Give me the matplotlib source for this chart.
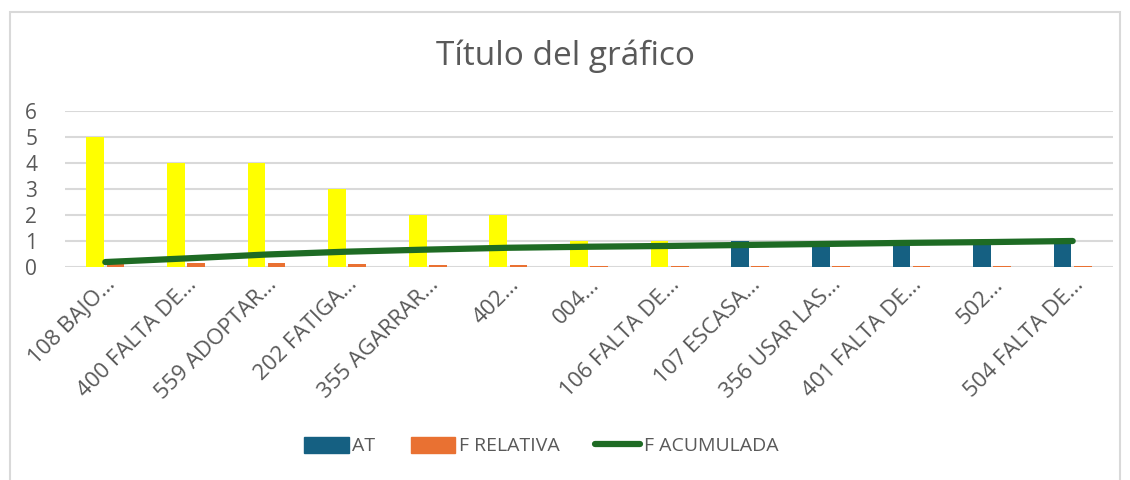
import matplotlib.pyplot as plt
import numpy as np
from matplotlib.patches import Rectangle, Patch
from matplotlib.lines import Line2D

plt.rcParams['font.family'] = ['Open Sans', 'DejaVu Sans']

categories = ["108 BAJO…", "400 FALTA DE…", "559 ADOPTAR…", "202 FATIGA…", "355 AGARRAR…",
              "402…", "004…", "106 FALTA DE…", "107 ESCASA…", "356 USAR LAS…",
              "401 FALTA DE…", "502…", "504 FALTA DE…"]
at_values = [5, 4, 4, 3, 2, 2, 1, 1, 1, 1, 1, 1, 1]
f_relativa = [0.19, 0.15, 0.15, 0.11, 0.07, 0.07, 0.04, 0.04, 0.04, 0.04, 0.04, 0.04, 0.04]
f_acumulada = [0.19, 0.33, 0.48, 0.59, 0.67, 0.74, 0.78, 0.81, 0.85, 0.89, 0.93, 0.96, 1.0]
bar_colors = ["#FFFF00"] * 8 + ["#156082"] * 5

grey = "#595959"
fig = plt.figure(figsize=(11.3, 4.8), dpi=100)
fig.patches.append(Rectangle((10 / 1130, -0.1), 1110 / 1130, 1 - 12 / 480 + 0.1,
                             transform=fig.transFigure, fill=False,
                             edgecolor="#D9D9D9", linewidth=1.5))
ax = fig.add_axes([65 / 1130, 1 - 267 / 480, 1048 / 1130, 156 / 480])

x = np.arange(len(categories))
w = 0.22
ax.bar(x - 0.125, at_values, width=w, color=bar_colors, zorder=2)
ax.bar(x + 0.125, f_relativa, width=w, color="#E97132", zorder=2)
ax.plot(x, f_acumulada, color="#1E6B24", linewidth=4.5, solid_capstyle="round", zorder=3)

ax.set_xlim(-0.5, len(categories) - 0.5)
ax.set_ylim(0, 6)
ax.set_yticks(range(7))
ax.yaxis.grid(True, color="#D9D9D9", linewidth=1.5, zorder=0)
ax.set_axisbelow(True)
for s in ax.spines.values():
    s.set_visible(False)
ax.tick_params(axis="both", length=0, colors=grey)
ax.tick_params(axis="y", pad=20, labelsize=15)
ax.set_xticks(x)
ax.set_xticklabels(categories, rotation=45, ha="right", rotation_mode="anchor")
ax.tick_params(axis="x", pad=5, labelsize=16)

fig.text(0.5, 1 - 56 / 480, "Título del gráfico", ha="center", va="center",
         fontsize=24, color=grey)

handles = [Patch(color="#156082"), Patch(color="#E97132"),
           Line2D([0], [0], color="#1E6B24", linewidth=4.5, solid_capstyle="round")]
fig.legend(handles, ["AT", "F RELATIVA", "F ACUMULADA"], loc="center",
           bbox_to_anchor=(541 / 1130, 1 - 446 / 480), ncol=3, frameon=False,
           fontsize=14, labelcolor=grey, handlelength=2.3, handleheight=0.9,
           columnspacing=1.8, handletextpad=0.2)

fig.savefig("out.png", dpi=100)
